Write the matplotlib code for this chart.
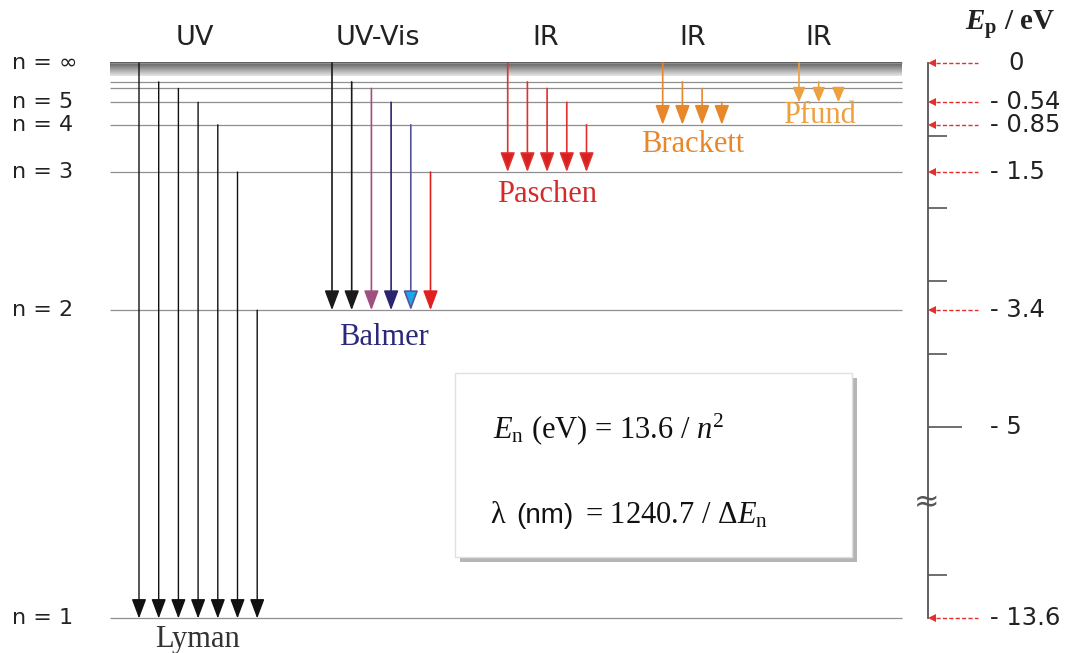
import matplotlib.pyplot as plt
import matplotlib.patches as mpatches
from matplotlib.colors import LinearSegmentedColormap
import numpy as np

plt.rcParams['mathtext.fontset'] = 'custom'
plt.rcParams['mathtext.rm'] = 'Liberation Serif'
plt.rcParams['mathtext.it'] = 'Liberation Serif:italic'
plt.rcParams['mathtext.bf'] = 'Liberation Serif:bold'
plt.rcParams['mathtext.bfit'] = 'Liberation Serif:italic:bold'

# energy levels of hydrogen (eV)
level_E = [0, -0.26, -0.35, -0.54, -0.85, -1.5, -3.4, -13.6]
level_names = ['n = \u221e', '', '', 'n = 5', 'n = 4', 'n = 3', 'n = 2', 'n = 1']

# right hand scale
scale_E = [0, -0.54, -0.85, -1.5, -3.4, -5, -13.6]
scale_labels = ['0', '- 0.54', '- 0.85', '- 1.5', '- 3.4', '- 5', '- 13.6']
marked_E = [0, -0.54, -0.85, -1.5, -3.4, -13.6]   # red dashed arrows
minor_ticks = [-1, -2, -3, -4, -13]
major_ticks = [-5]

# spectral series: upper levels -> lower level
lyman_from = [0, -0.26, -0.35, -0.54, -0.85, -1.5, -3.4]
lyman_to = -13.6
balmer_from = [0, -0.26, -0.35, -0.54, -0.85, -1.5]
balmer_to = -3.4
paschen_from = [0, -0.26, -0.35, -0.54, -0.85]
paschen_to = -1.5
brackett_from = [0, -0.26, -0.35, -0.54]
brackett_to = -0.85
pfund_from = [0, -0.26, -0.35]
pfund_to = -0.54

region_labels = ['UV', 'UV-Vis', 'IR', 'IR', 'IR']
series_names = ['Lyman', 'Balmer', 'Paschen', 'Brackett', 'Pfund']

balmer_lines = ['#1a1a1a', '#1a1a1a', '#a0507e', '#2b2570', '#55559a', '#e02020']
balmer_heads = ['#1a1a1a', '#1a1a1a', '#a0507e', '#2b2570', '#1ea5e8', '#e02020']

# broken energy axis: everything below the break is shifted up
BREAK_AT = -6.05
BREAK_GAP = 5.96


def squash(e):
    return float(e + BREAK_GAP) if e < BREAK_AT else float(e)


PX_PER_EV = 72.7
TOP_PX = 63


def py(p):
    # pixel row -> y data value (for layout only)
    return -(p - TOP_PX) / PX_PER_EV


fig = plt.figure(figsize=(10.74, 6.53), dpi=100)
ax = fig.add_axes([0, 0, 1, 1])
ax.set_xlim(0, 1074)
ax.set_ylim(py(653), py(0))
ax.axis('off')

# continuum band near n = infinity
band = LinearSegmentedColormap.from_list('band', ['#555555', '#e6e6e6'])
ax.imshow(np.linspace(0, 1, 50).reshape(-1, 1), extent=[110, 902, py(76), py(62)],
          aspect='auto', cmap=band, origin='upper', interpolation='bilinear', zorder=1)

# level lines and labels
ax.hlines([squash(e) for e in level_E], 110, 902, color='#8f8f8f', lw=0.9, zorder=1)
for e, name in zip(level_E, level_names):
    if name:
        ax.text(12, squash(e), name, fontsize=16, color='#222222', va='center', ha='left')

STEP = 19.7


def draw_series(x0, uppers, lower, line_cols, head_cols, hl=1.2, hw=0.45, lw=1.2):
    for i, e in enumerate(uppers):
        x = x0 + i * STEP
        arr = mpatches.FancyArrowPatch(
            (x, squash(e)), (x, squash(lower)),
            arrowstyle='-|>,head_length=%s,head_width=%s' % (hl, hw),
            mutation_scale=10, lw=lw, edgecolor=line_cols[i], facecolor=head_cols[i],
            shrinkA=0, shrinkB=0, zorder=3)
        ax.add_patch(arr)


draw_series(139, lyman_from, lyman_to, ['#111111'] * 7, ['#111111'] * 7, lw=1.0)
draw_series(332, balmer_from, balmer_to, balmer_lines, balmer_heads)
draw_series(507.7, paschen_from, paschen_to, ['#e03030'] * 5, ['#d82020'] * 5)
draw_series(662.7, brackett_from, brackett_to, ['#e8862a'] * 4, ['#e8862a'] * 4)
draw_series(799, pfund_from, pfund_to, ['#eda040'] * 3, ['#eda040'] * 3, hl=0.9, hw=0.38)

# series names
name_x = [198, 384, 547, 693, 819]
name_base = [647, 345, 202, 152, 123]
name_cols = ['#333333', '#2b2a7a', '#d42a2a', '#e8862a', '#eda040']
for name, x, b, c in zip(series_names, name_x, name_base, name_cols):
    ax.text(x, py(b), name, family='Liberation Serif', fontsize=22, color=c,
            ha='center', va='baseline')

# spectral regions on top
region_x = [195, 378, 546, 693, 819]
for lab, x in zip(region_labels, region_x):
    ax.text(x, py(45), lab, fontsize=19.5, color='#222222', ha='center', va='baseline')

# right hand energy scale
AX_X = 928
ax.plot([AX_X, AX_X], [0, squash(-13.6)], color='#555555', lw=1.3, zorder=2)
ax.hlines([squash(t) for t in minor_ticks], AX_X, 947, color='#555555', lw=1.2)
ax.hlines([squash(t) for t in major_ticks], AX_X, 962, color='#555555', lw=1.2)
ax.text(AX_X - 1, BREAK_AT, '\u2248', fontsize=22, color='#555555', ha='center', va='center')
for e in marked_E:
    y = squash(e)
    ax.plot([936, 978], [y, y], color='#e03030', lw=1.0, ls=(0, (3, 1.6)))
    ax.plot(932, y, marker='<', ms=6, color='#e03030', mew=0)
for e, lab in zip(scale_E, scale_labels):
    x = 990 if lab.startswith('-') else 1008
    ax.text(x, squash(e), lab, fontsize=17.5, color='#222222', ha='left', va='center')
ax.text(1010, py(30), r'$\mathbfit{E}_{\mathbf{p}}$ / eV', family='Liberation Serif',
        fontweight='bold', fontsize=21, color='#222222', ha='center', va='baseline')

# formula box with drop shadow
bx0, bx1, by0, by1 = 455, 852, 373, 557
ax.add_patch(mpatches.Rectangle((bx0 + 5, py(by1 + 5)), bx1 - bx0, py(by0) - py(by1),
                                facecolor='#b5b5b5', edgecolor='none', zorder=2))
ax.add_patch(mpatches.Rectangle((bx0, py(by1)), bx1 - bx0, py(by0) - py(by1),
                                facecolor='white', edgecolor='#e0e0e0', lw=1, zorder=2))
ax.text(493, py(438), r'$E_{\mathrm{n}}$ (eV) = 13.6 / $n^2$', family='Liberation Serif',
        fontsize=22, color='#111111', va='baseline', zorder=4)
ax.text(490, py(523), '\u03bb', family='Liberation Serif', fontsize=22, color='#111111',
        va='baseline', zorder=4)
ax.text(516, py(523), '(nm)', family='Liberation Sans', fontsize=20, color='#111111',
        va='baseline', zorder=4)
ax.text(585, py(523), r'= 1240.7 / $\Delta E_{\mathrm{n}}$', family='Liberation Serif',
        fontsize=22, color='#111111', va='baseline', zorder=4)

fig.savefig('out.png', dpi=100, facecolor='white')
